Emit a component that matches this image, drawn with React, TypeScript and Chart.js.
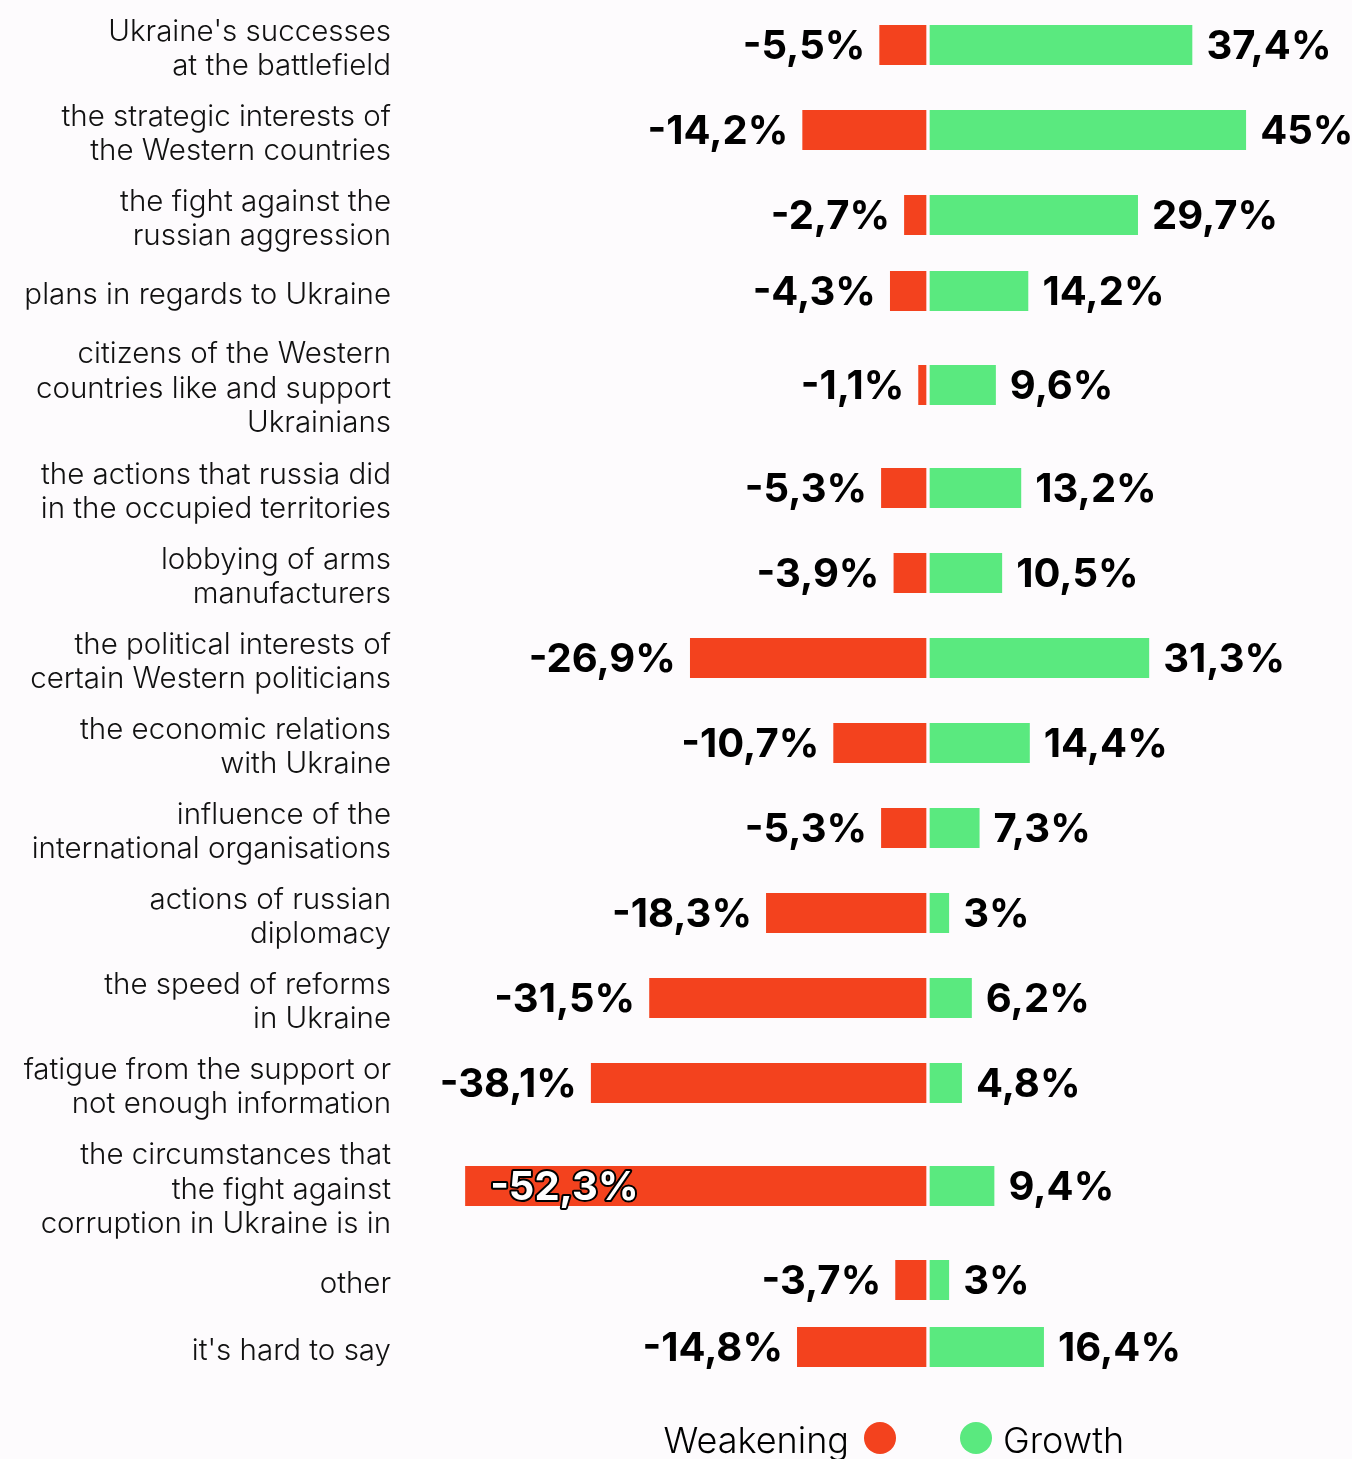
import React, { useEffect, useRef } from 'react';
import { Chart, registerables } from 'chart.js';

Chart.register(...registerables);

// ---------- data ----------
const categories: string[][] = [
  ["Ukraine's successes", 'at the battlefield'],
  ['the strategic interests of', 'the Western countries'],
  ['the fight against the', 'russian aggression'],
  ['plans in regards to Ukraine'],
  ['citizens of the Western', 'countries like and support', 'Ukrainians'],
  ['the actions that russia did', 'in the occupied territories'],
  ['lobbying of arms', 'manufacturers'],
  ['the political interests of', 'certain Western politicians'],
  ['the economic relations', 'with Ukraine'],
  ['influence of the', 'international organisations'],
  ['actions of russian', 'diplomacy'],
  ['the speed of reforms', 'in Ukraine'],
  ['fatigue from the support or', 'not enough information'],
  ['the circumstances that', 'the fight against', 'corruption in Ukraine is in'],
  ['other'],
  ["it's hard to say"],
];

const weakening: number[] = [-5.5, -14.2, -2.7, -4.3, -1.1, -5.3, -3.9, -26.9, -10.7, -5.3, -18.3, -31.5, -38.1, -52.3, -3.7, -14.8];
const growth: number[] = [37.4, 45, 29.7, 14.2, 9.6, 13.2, 10.5, 31.3, 14.4, 7.3, 3, 6.2, 4.8, 9.4, 3, 16.4];
const seriesNames: string[] = ['Weakening', 'Growth'];

// ---------- styles / layout ----------
const W = 1352;
const H = 1459;
const BG = '#fdfbfd';
const RED = '#f3421e';
const GREEN = '#5ae97f';
const FONT = 'Inter, "Noto Sans", sans-serif';

const PLOT_LEFT = 400;
const ZERO = 928;
const NEG_PX = 8.85;
const POS_PX = 7.07;
const ZERO_GAP = 2;
const ROW_TOP = 2.5;
const ROW_LINE = 36;
const ROW_PAD = 13;
const ROW_MIN = 67;
const LEGEND_OFFSET = 57.5;

const rowHeights = categories.map((l) => Math.max(ROW_MIN, l.length * ROW_LINE + ROW_PAD));
const rowCenters: number[] = [];
let acc = 0;
rowHeights.forEach((h) => {
  rowCenters.push(acc + h / 2);
  acc += h;
});
const rowsTotal = acc;

const fmt = (v: number) => String(v).replace('.', ',') + '%';

const bgPlugin = {
  id: 'bg',
  beforeDraw(chart: any) {
    const ctx = chart.ctx;
    ctx.save();
    ctx.fillStyle = BG;
    ctx.fillRect(0, 0, chart.width, chart.height);
    ctx.restore();
  },
};

const valueLabels = {
  id: 'valueLabels',
  afterDatasetsDraw(chart: any) {
    const ctx = chart.ctx;
    const left = chart.chartArea.left;
    const size = 40;
    ctx.save();
    ctx.font = `700 ${size}px ${FONT}`;
    ctx.textBaseline = 'alphabetic';
    const capHalf = (size * 0.727) / 2;
    chart.data.datasets.forEach((ds: any, di: number) => {
      const meta = chart.getDatasetMeta(di);
      meta.data.forEach((el: any, i: number) => {
        const v = ds.data[i].x;
        const txt = fmt(v);
        const x = el.x;
        const ty = el.y + capHalf - 1;
        if (v < 0) {
          const w = ctx.measureText(txt).width;
          if (x - 14 - w < left) {
            ctx.textAlign = 'left';
            ctx.lineJoin = 'round';
            ctx.lineWidth = 4;
            ctx.strokeStyle = '#000';
            ctx.strokeText(txt, x + 25, ty);
            ctx.fillStyle = '#fff';
            ctx.fillText(txt, x + 25, ty);
          } else {
            ctx.textAlign = 'right';
            ctx.fillStyle = '#000';
            ctx.fillText(txt, x - 14, ty);
          }
        } else {
          ctx.textAlign = 'left';
          ctx.fillStyle = '#000';
          ctx.fillText(txt, x + 14, ty);
        }
      });
    });
    ctx.restore();
  },
};

const legendPlugin = {
  id: 'customLegend',
  afterDraw(chart: any) {
    const ctx = chart.ctx;
    const x0 = chart.scales.xNeg.getPixelForValue(0);
    const cy = chart.chartArea.bottom + LEGEND_OFFSET;
    const r = 16;
    const size = 36;
    ctx.save();
    ctx.font = `300 ${size}px ${FONT}`;
    ctx.textBaseline = 'alphabetic';
    const ty = cy + 2 + (size * 0.727) / 2;
    ctx.fillStyle = RED;
    ctx.beginPath();
    ctx.arc(x0 - 48, cy, r, 0, Math.PI * 2);
    ctx.fill();
    ctx.fillStyle = '#000';
    ctx.textAlign = 'right';
    ctx.fillText(seriesNames[0], x0 - 48 - r - 15, ty);
    ctx.fillStyle = GREEN;
    ctx.beginPath();
    ctx.arc(x0 + 48, cy, r, 0, Math.PI * 2);
    ctx.fill();
    ctx.fillStyle = '#000';
    ctx.textAlign = 'left';
    ctx.fillText(seriesNames[1], x0 + 48 + r + 11, ty);
    ctx.restore();
  },
};

export default function App() {
  const ref = useRef<HTMLCanvasElement | null>(null);

  useEffect(() => {
    document.body.style.margin = '0';
    document.body.style.background = BG;
    document.documentElement.style.overflow = 'hidden';
    const canvas = ref.current;
    if (!canvas) return;
    const chart = new Chart(canvas, {
      type: 'bar',
      data: {
        datasets: [
          {
            label: seriesNames[0],
            data: weakening.map((v, i) => ({ x: v, y: rowCenters[i] })),
            backgroundColor: RED,
            borderColor: BG,
            borderWidth: { top: 0, bottom: 0, left: 0, right: ZERO_GAP },
            borderSkipped: false,
            xAxisID: 'xNeg',
            yAxisID: 'y',
            barThickness: 40,
            grouped: false,
          } as any,
          {
            label: seriesNames[1],
            data: growth.map((v, i) => ({ x: v, y: rowCenters[i] })),
            backgroundColor: GREEN,
            borderColor: BG,
            borderWidth: { top: 0, bottom: 0, left: ZERO_GAP, right: 0 },
            borderSkipped: false,
            xAxisID: 'xPos',
            yAxisID: 'y',
            barThickness: 40,
            grouped: false,
          } as any,
        ],
      },
      options: {
        indexAxis: 'y',
        responsive: false,
        animation: false,
        devicePixelRatio: 1,
        layout: { padding: { top: ROW_TOP, bottom: H - ROW_TOP - rowsTotal, left: 0, right: 0 } },
        plugins: { legend: { display: false }, tooltip: { enabled: false } },
        scales: {
          xNeg: {
            type: 'linear',
            axis: 'x',
            position: 'bottom',
            display: false,
            min: -(ZERO - PLOT_LEFT) / NEG_PX,
            max: (W - ZERO) / NEG_PX,
          },
          xPos: {
            type: 'linear',
            axis: 'x',
            position: 'bottom',
            display: false,
            min: -(ZERO - PLOT_LEFT) / POS_PX,
            max: (W - ZERO) / POS_PX,
          },
          y: {
            type: 'linear',
            position: 'left',
            reverse: true,
            min: 0,
            max: rowsTotal,
            offset: false,
            grid: { display: false, drawTicks: false },
            border: { display: false },
            afterBuildTicks: (s: any) => {
              s.ticks = rowCenters.map((v) => ({ value: v }));
            },
            afterFit: (s: any) => {
              s.width = PLOT_LEFT;
              s.paddingTop = 0;
              s.paddingBottom = 0;
            },
            ticks: {
              autoSkip: false,
              padding: 9,
              labelOffset: 4,
              color: '#111',
              font: { family: FONT, size: 29.5, weight: '300', lineHeight: '34.5px' },
              callback: (_v: any, i: number) => categories[i],
            },
          } as any,
        },
      } as any,
      plugins: [bgPlugin, valueLabels, legendPlugin],
    });
    return () => chart.destroy();
  }, []);

  return (
    <div style={{ width: W, height: H, background: BG }}>
      <canvas ref={ref} width={W} height={H} style={{ display: 'block', width: W, height: H }} />
    </div>
  );
}
